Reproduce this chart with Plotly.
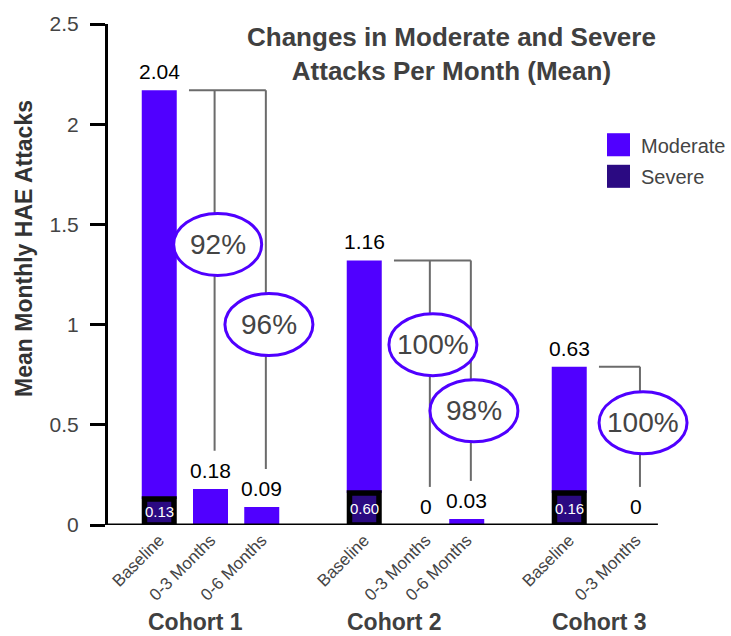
import plotly.graph_objects as go

# ---- data ----
cohorts = ["Cohort 1", "Cohort 2", "Cohort 3"]
periods = ["Baseline", "0-3 Months", "0-6 Months",
           "Baseline", "0-3 Months", "0-6 Months",
           "Baseline", "0-3 Months"]
bar_cohort = [0, 0, 0, 1, 1, 1, 2, 2]
moderate = [2.04, 0.18, 0.09, 1.16, 0, 0.03, 0.63, 0]
severe = [0.13, 0, 0, 0.16, 0, 0, 0.16, 0]
severe_labels = ["0.13", "0.60", "0.16"]
# reduction vs. cohort baseline, one per follow-up bar
reductions = ["92%", "96%", "100%", "98%", "100%"]

# ---- layout helpers ----
slot = [0, 1, 2, 4, 5.2, 6, 8, 9.3]          # x position of each bar
badge_y = [1.40, 1.0, 0.90, 0.57, 0.51]      # height of each reduction badge
cohort_label_x = [0.7, 4.6, 8.6]
X_MIN, X_AXIS_END, X_MAX = -1.0, 9.73, 10.61

MOD_COLOR = "#5000FF"
SEV_COLOR = "#2B0A82"
LINE_GREY = "#6B6B6B"
TEXT_GREY = "#444444"
FONT = "Liberation Sans, Arial, sans-serif"

totals = [m + s for m, s in zip(moderate, severe)]
fig = go.Figure()

fig.add_trace(go.Bar(
    x=slot, y=moderate, base=severe, width=0.683,
    marker=dict(color=MOD_COLOR, line=dict(width=0)),
    name="Moderate", showlegend=False, hoverinfo="skip",
))

sev_idx = [i for i, s in enumerate(severe) if s > 0]
fig.add_trace(go.Bar(
    x=[slot[i] for i in sev_idx], y=[severe[i] for i in sev_idx],
    width=0.576,
    marker=dict(color=SEV_COLOR, line=dict(color="black", width=5.5)),
    name="Severe", showlegend=False, hoverinfo="skip",
))

annotations = []
shapes = []

# baseline (x axis line), stopping short of the right edge
shapes.append(dict(type="line", xref="x", yref="y",
                   x0=X_MIN, x1=X_AXIS_END, y0=0, y1=0,
                   line=dict(color="black", width=3)))

# value labels above each bar
for i, v in enumerate(moderate):
    annotations.append(dict(
        x=slot[i], y=totals[i], xref="x", yref="y", text=f"{v:g}",
        showarrow=False, yanchor="bottom", yshift=5,
        font=dict(size=21, color="black", family=FONT),
    ))

# severe labels inside the dark band
for k, i in enumerate(sev_idx):
    annotations.append(dict(
        x=slot[i], y=severe[i] / 2, xref="x", yref="y", text=severe_labels[k],
        showarrow=False, font=dict(size=15, color="white", family=FONT),
    ))

# brackets from each baseline to its follow-up bars, with reduction badges
follow = [i for i, p in enumerate(periods) if p != "Baseline"]
base_of = {c: next(i for i in range(len(periods))
                   if bar_cohort[i] == c and periods[i] == "Baseline")
           for c in range(len(cohorts))}
for c in range(len(cohorts)):
    b = base_of[c]
    fl = [i for i in follow if bar_cohort[i] == c]
    shapes.append(dict(type="line", xref="x", yref="y",
                       x0=slot[b] + 0.58, x1=slot[fl[-1]] + 0.08,
                       y0=totals[b], y1=totals[b],
                       line=dict(color=LINE_GREY, width=2)))
    for i in fl:
        shapes.append(dict(type="line", xref="x", yref="y",
                           x0=slot[i] + 0.08, x1=slot[i] + 0.08,
                           y0=totals[b], y1=totals[i] + 0.19,
                           line=dict(color=LINE_GREY, width=2)))

for k, i in enumerate(follow):
    cx = slot[i] + 0.14
    shapes.append(dict(type="circle", xref="x", yref="y",
                       xsizemode="pixel", ysizemode="pixel",
                       xanchor=cx, yanchor=badge_y[k],
                       x0=-44, x1=44, y0=-31, y1=31,
                       fillcolor="white", line=dict(color=MOD_COLOR, width=3)))
    annotations.append(dict(
        x=cx, y=badge_y[k], xref="x", yref="y", text=reductions[k],
        showarrow=False, font=dict(size=28, color=TEXT_GREY, family=FONT),
    ))

# cohort group labels
for c, name in enumerate(cohorts):
    annotations.append(dict(
        x=cohort_label_x[c], y=-0.193, xref="x", yref="paper", text=name,
        showarrow=False, yanchor="middle",
        font=dict(size=23, color="#404040", family=FONT, weight="bold"),
    ))

# title
annotations.append(dict(
    x=0.578, y=0.94, xref="paper", yref="paper",
    text="Changes in Moderate and Severe<br>Attacks Per Month (Mean)",
    showarrow=False, align="center", xanchor="center", yanchor="middle",
    font=dict(size=26, color="#404040", family=FONT, weight="bold"),
))

# y-axis title
annotations.append(dict(
    x=-0.1412, y=0.553, xref="paper", yref="paper", textangle=-90,
    text="Mean Monthly HAE Attacks", showarrow=False,
    xanchor="center", yanchor="middle",
    font=dict(size=23, color="#333333", family=FONT, weight="bold"),
))

# legend swatches
legend_items = [("Moderate", MOD_COLOR, 0.782), ("Severe", SEV_COLOR, 0.719)]
for label, color, top in legend_items:
    shapes.append(dict(type="rect", xref="paper", yref="paper",
                       x0=0.8387, x1=0.8773, y0=top - 0.046, y1=top,
                       fillcolor=color, line=dict(width=0)))
    annotations.append(dict(
        x=0.8924, y=top - 0.025, xref="paper", yref="paper", text=label,
        showarrow=False, xanchor="left", yanchor="middle",
        font=dict(size=20, color=TEXT_GREY, family=FONT),
    ))

fig.update_layout(
    width=731, height=636,
    margin=dict(l=108, r=28, t=17, b=111),
    barmode="overlay",
    plot_bgcolor="white", paper_bgcolor="white",
    font=dict(family=FONT),
    showlegend=False,
    shapes=shapes, annotations=annotations,
    xaxis=dict(
        range=[X_MIN, X_MAX], tickvals=slot, ticktext=periods,
        tickangle=-45, tickfont=dict(size=17, color=TEXT_GREY),
        showline=False, ticks="", showgrid=False, zeroline=False,
        ticklabelstandoff=1,
    ),
    yaxis=dict(
        range=[0, 2.5], tick0=0, dtick=0.5,
        tickfont=dict(size=21, color=TEXT_GREY),
        showline=True, linecolor="black", linewidth=3,
        ticks="outside", ticklen=15, tickwidth=3, tickcolor="black",
        ticklabelstandoff=7, showgrid=False, zeroline=False,
    ),
)

fig.write_html("out.html")
